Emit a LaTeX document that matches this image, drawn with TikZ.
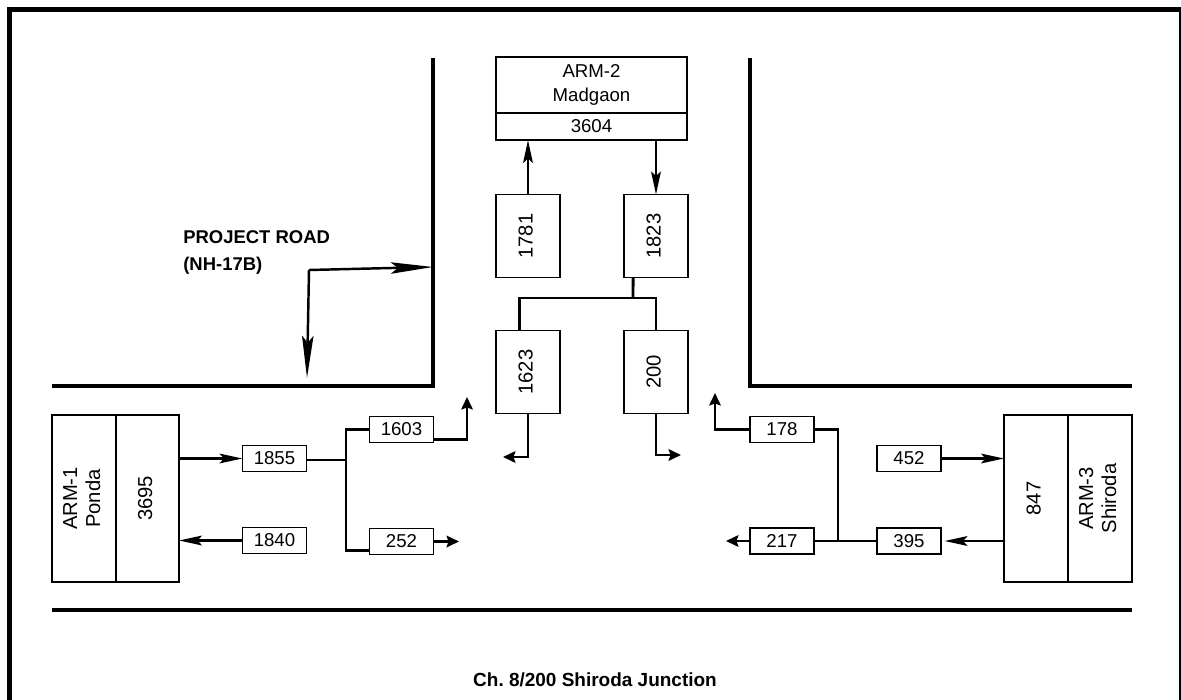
\documentclass[tikz,border=0pt]{standalone}
\usepackage{fontspec}
\setmainfont{Liberation Sans}
\usetikzlibrary{arrows.meta, positioning}
\newcommand{\numfont}{\fontsize{10.6}{13}\selectfont}
\newcommand{\vtext}[1]{\rotatebox{90}{\fontsize{11.5}{13.2}\selectfont
    \begin{tabular}{@{}c@{}}#1\end{tabular}}}
\tikzset{
    numbox/.style={draw, line width=1.1pt, outer sep=0pt, inner sep=0pt,
                   minimum width=1.28cm, minimum height=0.52cm, font=\numfont},
    tallbox/.style={numbox, minimum height=1.66cm},
    armbox/.style={numbox, minimum height=3.34cm},
    road/.style={line width=2pt},
    link/.style={line width=1.6pt},
    inarrow/.style={link, -{Stealth[length=13pt, width=5.5pt, inset=2.5pt]}},
    outarrow/.style={link, -{Stealth[length=7pt, width=6.5pt, inset=1pt]}},
    roadarrow/.style={line width=1.4pt, -{Stealth[length=24pt, width=6.5pt, inset=4pt]}},
    caption/.style={font=\fontsize{10.8}{15.3}\selectfont\bfseries, inner sep=0pt},
}

\begin{document}
\begin{tikzpicture}[x=0.02cm, y=-0.02cm, node distance=0pt]
    \useasboundingbox (0,0) rectangle (1181,700);
    % outer frame (cut at the bottom)
    \draw[line width=2.8pt] (9.5,700) -- (9.5,9.5) -- (1181,9.5);
    \draw[line width=0.8pt] (1180,9.5) -- (1180,700);
    % road edges
    \draw[road] (52,386) -- (433,386) -- (433,58);
    \draw[road] (750,58) -- (750,386) -- (1132,386);
    \draw[road] (52,610) -- (1132,610);

    % ARM-2 Madgaon
    \node[numbox, minimum width=3.82cm, minimum height=1.12cm, align=center,
          font=\fontsize{10.6}{14}\selectfont] (arm2name) at (591.5,85) {ARM-2\\Madgaon};
    \node[numbox, minimum width=3.82cm, minimum height=0.54cm, below=of arm2name] (arm2val) {3604};
    \node[tallbox] (n1781) at (528,236) {\vtext{1781}};
    \node[tallbox] (n1823) at (656,236) {\vtext{1823}};
    \node[tallbox] (n1623) at (528,372) {\vtext{1623}};
    \node[tallbox] (n200) at (656,372) {\vtext{200}};

    % ARM-1 Ponda
    \node[armbox] (arm1name) at (84,498.5) {\vtext{ARM-1\\Ponda}};
    \node[armbox, minimum width=1.26cm, right=of arm1name] (arm1val) {\vtext{3695}};
    \node[numbox] (n1855) at (274.5,458.5) {1855};
    \node[numbox] (n1840) at (274.5,540.5) {1840};
    \node[numbox] (n1603) at (401.5,429.5) {1603};
    \node[numbox] (n252) at (401.5,541.5) {252};

    % ARM-3 Shiroda
    \node[armbox] (arm3val) at (1036,498.5) {\vtext{847}};
    \node[armbox, right=of arm3val] (arm3name) {\vtext{ARM-3\\Shiroda}};
    \node[numbox] (n452) at (909,458.5) {452};
    \node[numbox] (n395) at (909,541) {395};
    \node[numbox] (n178) at (782,429.5) {178};
    \node[numbox] (n217) at (782,541) {217};

    % free ends
    \coordinate (split) at (633,298);
    \coordinate (j1) at (346,460);
    \coordinate (j3) at (838,541);
    \coordinate (o1603) at (467,397);
    \coordinate (o252) at (459,541.5);
    \coordinate (o1623) at (503,457);
    \coordinate (o200) at (681,455);
    \coordinate (o178) at (715,393);
    \coordinate (o217) at (726,541);

    % flows at ARM-2
    \draw[inarrow] (n1781.north) -- (n1781.north |- arm2val.south);
    \draw[inarrow] (arm2val.south -| n1823) -- (n1823.north);
    \draw[link] ([xshift=-13pt]n1823.south) -- (split);
    \draw[link] ([xshift=-5pt]n1623.north) |- (split) -| (n200.north);
    \draw[outarrow] (n1623.south) |- (o1623);
    \draw[outarrow] (n200.south) |- (o200);

    % flows at ARM-1
    \draw[inarrow] (n1855.west -| arm1val.east) -- (n1855.west);
    \draw[inarrow] (n1840.west) -- (n1840.west -| arm1val.east);
    \draw[link] (n1855.east |- j1) -- (j1);
    \draw[link] (n1603.west) -| (j1) |- ([yshift=-5pt]n252.west);
    \draw[outarrow] ([yshift=-5.5pt]n1603.east) -| (o1603);
    \draw[outarrow] (n252.east) -- (o252);

    % flows at ARM-3
    \draw[inarrow] (n452.east) -- (n452.east -| arm3val.west);
    \draw[inarrow] (n395.east -| arm3val.west) -- ([xshift=2pt]n395.east);
    \draw[link] (n395.west) -- (n217.east);
    \draw[link] (n178.east) -| (j3);
    \draw[outarrow] (n178.west) -| (o178);
    \draw[outarrow] (n217.west) -- (o217);

    % project road
    \node[caption, anchor=north west, align=left, font=\fontsize{10.5}{15.3}\selectfont\bfseries]
        (road) at (183,230) {PROJECT ROAD\\(NH-17B)};
    \coordinate (pr) at (309,270);
    \coordinate (pe) at (433,267);
    \coordinate (ps) at (307,378);
    \draw[roadarrow] (pr) -- (pe);
    \draw[roadarrow] (pr) -- (ps);

    \node[caption] (title) at (595,680) {Ch.\ 8/200 Shiroda Junction};
\end{tikzpicture}
\end{document}
